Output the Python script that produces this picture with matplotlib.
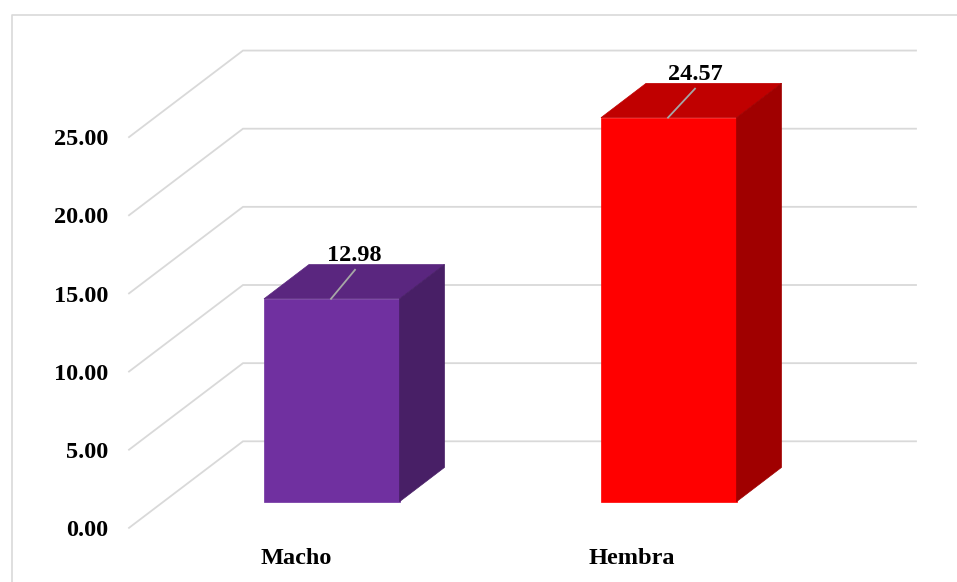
import matplotlib
matplotlib.use("Agg")
import matplotlib.pyplot as plt
from matplotlib.patches import Polygon

categories = ["Macho", "Hembra"]
values = [12.98, 24.57]
value_labels = ["12.98", "24.57"]
ticks = [0, 5, 10, 15, 20, 25]
tick_labels = ["0.00", "5.00", "10.00", "15.00", "20.00", "25.00"]
front_colors = ["#7030A0", "#FF0000"]
top_colors = ["#5A267F", "#C00000"]
side_colors = ["#481F66", "#A00000"]

W, H = 957, 582
PX = 15.63            # pixels per value unit
Y0 = 529.0            # pixel row of value 0 on the front plane
DEPTH_X, DEPTH_Y = 115.5, 87.7
LEFT, RIGHT = 129, 916
BAR_LEFTS = [264, 601]
CAT_CENTERS = [296, 632]
LEADER_DX = [91, 94]
BAR_W = 135.5
BAR_BOTTOM = 501.7
BAR_DX, BAR_DY = 45, 34.3

plt.rcParams["font.family"] = ["Liberation Serif", "DejaVu Serif"]
fig = plt.figure(figsize=(W / 100, H / 100), dpi=100, facecolor="white")
ax = fig.add_axes([0, 0, 1, 1])
ax.set_xlim(0, W)
ax.set_ylim((Y0 - H) / PX, Y0 / PX)
ax.axis("off")


def vy(px):
    """pixel row -> value-axis coordinate"""
    return (Y0 - px) / PX


# outer frame
ax.plot([W, 12, 12], [vy(14.5), vy(14.5), vy(H)], color="#D9D9D9", lw=1.2, zorder=1)

# gridlines: side diagonal + back wall
dv = DEPTH_Y / PX
for t, lab in zip(ticks, tick_labels):
    ax.plot([LEFT, LEFT + DEPTH_X - 1.5, RIGHT], [t + 1.5 * DEPTH_Y / DEPTH_X / PX, t + dv, t + dv],
            color="#D9D9D9", lw=1.3, zorder=1, solid_joinstyle="miter")
    ax.text(108, t - 1.5 / PX, lab, ha="right", va="center", fontsize=17.5,
            fontweight="bold", color="black", zorder=5)

base = vy(BAR_BOTTOM)
bdy = BAR_DY / PX
for i, (v, lab, cat_x, cat) in enumerate(zip(values, value_labels, CAT_CENTERS, categories)):
    x0, x1 = BAR_LEFTS[i], BAR_LEFTS[i] + BAR_W
    top = base + v
    ax.add_patch(Polygon([(x0, base), (x1, base), (x1, top), (x0, top)],
                         closed=True, fc=front_colors[i], ec=front_colors[i], lw=0.5, zorder=3))
    ax.add_patch(Polygon([(x0, top), (x1, top), (x1 + BAR_DX, top + bdy), (x0 + BAR_DX, top + bdy)],
                         closed=True, fc=top_colors[i], ec=top_colors[i], lw=0.5, zorder=3))
    ax.add_patch(Polygon([(x1, base), (x1 + BAR_DX, base + bdy), (x1 + BAR_DX, top + bdy), (x1, top)],
                         closed=True, fc=side_colors[i], ec=side_colors[i], lw=0.5, zorder=3))
    # leader line and value label
    ax.plot([x0 + 67, x0 + LEADER_DX[i]], [top, top + 29 / PX], color="#A6A6A6", lw=1.3, zorder=4)
    ax.text(x0 + 90.5 + i * 3.5, top + 33 / PX, lab, ha="center", va="bottom", fontsize=17.5,
            fontweight="bold", color="black", zorder=5)
    ax.text(cat_x, vy(559), cat, ha="center", va="center", fontsize=17.5,
            fontweight="bold", color="black", zorder=5)

fig.savefig("out.png", dpi=100, facecolor="white")
